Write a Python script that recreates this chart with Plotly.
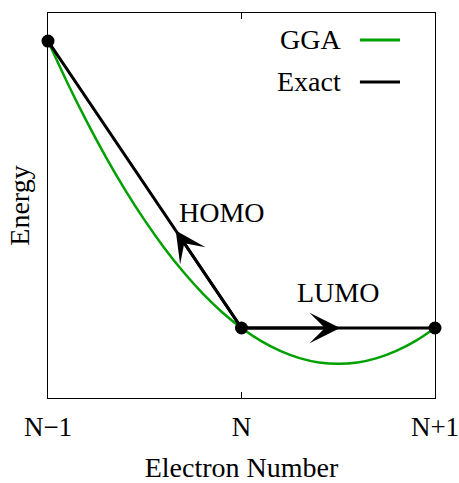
import plotly.graph_objects as go

# ---- data ----
tick_vals = [-1, 0, 1]
tick_text = ["N\u22121", "N", "N+1"]

gga_x = [-1.0, -0.9, -0.8, -0.7, -0.6, -0.5, -0.4, -0.3, -0.2, -0.1, 0.0,
         0.1, 0.2, 0.3, 0.4, 0.5, 0.6, 0.7, 0.8, 0.9, 1.0]
gga_y = [1.0, 0.855, 0.72, 0.595, 0.48, 0.375, 0.28, 0.195, 0.12, 0.055, 0.0,
         -0.045, -0.08, -0.105, -0.12, -0.125, -0.12, -0.105, -0.08, -0.045, 0.0]

exact_x = [-1, 0, 1]
exact_y = [1, 0, 0]

arrow_names = ["HOMO", "LUMO"]
arrow_tail_x = [0, 0]
arrow_tail_y = [0, 0]
arrow_tip_x = [-0.34, 0.51]
arrow_tip_y = [0.34, 0.0]
label_x = [-0.10, 0.50]
label_y = [0.402, 0.125]

legend_names = ["GGA", "Exact"]

FONT = "Liberation Serif, Times New Roman, serif"
GREEN = "#00a000"
FS = 28

fig = go.Figure()
fig.add_trace(go.Scatter(x=gga_x, y=gga_y, mode="lines", name="GGA",
                         line=dict(color=GREEN, width=2.5, shape="spline"),
                         showlegend=False, cliponaxis=False))
fig.add_trace(go.Scatter(x=exact_x, y=exact_y, mode="lines", name="Exact",
                         line=dict(color="black", width=3),
                         showlegend=False, cliponaxis=False))
fig.add_trace(go.Scatter(x=exact_x, y=exact_y, mode="markers",
                         marker=dict(color="black", size=13),
                         showlegend=False, cliponaxis=False))

annotations = []
for name, tx, ty, hx, hy, lx, ly in zip(arrow_names, arrow_tail_x, arrow_tail_y,
                                         arrow_tip_x, arrow_tip_y, label_x, label_y):
    annotations.append(dict(x=hx, y=hy, ax=tx, ay=ty, xref="x", yref="y",
                            axref="x", ayref="y", text="", showarrow=True,
                            arrowhead=3, arrowsize=1.7, arrowwidth=3,
                            arrowcolor="black", standoff=0))
    annotations.append(dict(x=lx, y=ly, xref="x", yref="y", text=name,
                            showarrow=False, font=dict(family=FONT, size=FS, color="black")))

# manual legend (text left of line sample)
leg_y = [0.930, 0.821]
line_y = [0.930, 0.821]
leg_colors = [GREEN, "black"]
shapes = []
for name, ty, ly, c in zip(legend_names, leg_y, line_y, leg_colors):
    annotations.append(dict(x=0.762, y=ty, xref="paper", yref="paper", text=name,
                            xanchor="right", yanchor="middle", showarrow=False,
                            font=dict(family=FONT, size=FS, color="black")))
    shapes.append(dict(type="line", xref="paper", yref="paper", x0=0.806, x1=0.9096,
                       y0=ly, y1=ly, line=dict(color=c, width=3)))

fig.update_layout(
    width=459, height=483,
    margin=dict(l=48, r=24, t=13, b=85, pad=0),
    paper_bgcolor="white", plot_bgcolor="white",
    font=dict(family=FONT, size=FS, color="black"),
    annotations=annotations, shapes=shapes,
    showlegend=False,
)
fig.update_xaxes(range=[-1.000001, 1.000001], tickvals=tick_vals, ticktext=tick_text,
                 ticks="inside", ticklen=6, tickwidth=1, tickcolor="black",
                 showline=True, linecolor="black", linewidth=1, mirror="ticks",
                 showgrid=False, zeroline=False, ticklabelstandoff=5,
                 ticklabeloverflow="allow",
                 tickfont=dict(family=FONT, size=27, color="black"),
                 title=dict(text="Electron Number", standoff=18,
                            font=dict(family=FONT, size=FS, color="black")),
                 automargin=False)
fig.update_yaxes(range=[-0.244, 1.098], showticklabels=False, ticks="",
                 showline=True, linecolor="black", linewidth=1, mirror=True,
                 showgrid=False, zeroline=False,
                 title=dict(text="Energy", standoff=9,
                            font=dict(family=FONT, size=FS, color="black")),
                 automargin=False)

# remove the page's default 8px body margin so the figure fills the window exactly
fig.write_html("out.html", config={"displayModeBar": False},
               post_script="document.body.style.margin='0';")
